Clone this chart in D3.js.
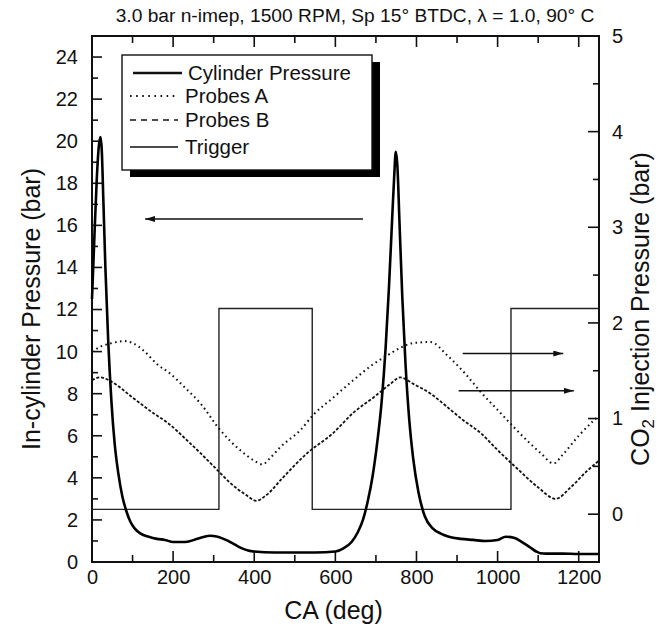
<!DOCTYPE html>
<html>
<head>
<meta charset="utf-8">
<script src="https://cdn.jsdelivr.net/npm/d3@7"></script>
<style>
  body { margin: 0; background: #fff; }
  text { font-family: "Liberation Sans", Arial, sans-serif; fill: #111; }
</style>
</head>
<body>
<div class="chart"></div>
<script>
var svgWidth = 662;
var svgHeight = 634;
var margin = {top: 36, right: 63, bottom: 72, left: 92};
var width = svgWidth - margin.left - margin.right;
var height = svgHeight - margin.top - margin.bottom;

// crank angle (deg) and in-cylinder pressure (bar, left axis)
var cylX = [0, 6, 12, 17, 21, 24, 28, 33, 40, 48, 56, 65, 75, 85, 95, 105, 120, 140, 160, 180, 200, 230, 260, 290, 310, 330, 350, 370, 385, 400, 450, 500, 550, 600, 620, 640, 655, 668, 680, 692, 704, 714, 724, 732, 740, 745, 749, 753, 758, 765, 773, 782, 792, 805, 820, 840, 860, 880, 910, 940, 970, 1000, 1020, 1040, 1060, 1080, 1095, 1105, 1120, 1160, 1200, 1250];
var cylY = [12.5, 15.5, 18.3, 19.8, 20.2, 19.6, 17.2, 14.0, 10.5, 7.6, 5.6, 4.2, 3.1, 2.4, 1.9, 1.6, 1.35, 1.2, 1.1, 1.05, 0.95, 0.95, 1.1, 1.25, 1.2, 1.05, 0.85, 0.65, 0.55, 0.5, 0.45, 0.45, 0.45, 0.5, 0.65, 0.95, 1.4, 2.0, 2.9, 4.1, 5.8, 7.6, 10.2, 13.0, 16.3, 18.3, 19.5, 18.8, 16.2, 12.6, 9.4, 6.8, 4.9, 3.3, 2.2, 1.6, 1.35, 1.2, 1.1, 1.05, 1.0, 1.05, 1.2, 1.15, 0.95, 0.7, 0.5, 0.42, 0.4, 0.4, 0.38, 0.38];

// probe signals (bar, right axis)
var probeAX = [0, 20, 50, 80, 100, 130, 160, 190, 230, 267, 316, 365, 400, 420, 440, 464, 514, 546, 595, 644, 694, 728, 760, 793, 835, 876, 920, 958, 1000, 1040, 1080, 1106, 1138, 1160, 1200, 1237, 1250];
var probeAY = [1.70, 1.75, 1.79, 1.81, 1.79, 1.70, 1.57, 1.48, 1.32, 1.16, 0.88, 0.67, 0.56, 0.52, 0.59, 0.70, 0.88, 1.04, 1.22, 1.40, 1.57, 1.66, 1.74, 1.79, 1.80, 1.66, 1.47, 1.28, 1.09, 0.91, 0.74, 0.64, 0.53, 0.62, 0.82, 0.98, 1.03];
var probeBX = [0, 20, 50, 100, 150, 185, 235, 267, 300, 340, 380, 405, 430, 470, 531, 595, 644, 694, 735, 760, 793, 835, 876, 916, 958, 1000, 1050, 1100, 1143, 1180, 1220, 1250];
var probeBY = [1.40, 1.43, 1.38, 1.22, 1.06, 0.96, 0.77, 0.64, 0.50, 0.33, 0.20, 0.14, 0.20, 0.38, 0.64, 0.85, 1.06, 1.22, 1.36, 1.43, 1.36, 1.26, 1.12, 0.98, 0.85, 0.67, 0.47, 0.28, 0.16, 0.28, 0.45, 0.56];

// trigger signal (bar, right axis)
var trigX = [0, 313, 313, 543, 543, 1033, 1033, 1250];
var trigY = [0.05, 0.05, 2.15, 2.15, 0.05, 0.05, 2.15, 2.15];

var xTicks = [0, 200, 400, 600, 800, 1000, 1200];
var leftTicks = [0, 2, 4, 6, 8, 10, 12, 14, 16, 18, 20, 22, 24];
var rightTicks = [0, 1, 2, 3, 4, 5];

var legendNames = ["Cylinder Pressure", "Probes A", "Probes B", "Trigger"];

var svg = d3.select(".chart").append("svg")
  .attr("width", svgWidth)
  .attr("height", svgHeight);

var chartGroup = svg.append("g")
  .attr("transform", `translate(${margin.left}, ${margin.top})`);

var xScale = d3.scaleLinear().domain([0, 1250]).range([0, width]);
var yLeft = d3.scaleLinear().domain([0, 25]).range([height, 0]);
var yRight = d3.scaleLinear().domain([-0.5, 5]).range([height, 0]);

// axes (labels only, tick marks drawn inward below)
var bottomAxis = d3.axisBottom(xScale).tickValues(xTicks).tickFormat(d3.format("d")).tickSize(0).tickPadding(8);
chartGroup.append("g").attr("class", "axis")
  .attr("transform", `translate(0, ${height})`)
  .call(bottomAxis);

var leftAxis = d3.axisLeft(yLeft).tickValues(leftTicks).tickFormat(d3.format("d")).tickSize(0).tickPadding(14);
chartGroup.append("g").attr("class", "axis").call(leftAxis);

var rightAxis = d3.axisRight(yRight).tickValues(rightTicks).tickFormat(d3.format("d")).tickSize(0).tickPadding(13);
chartGroup.append("g").attr("class", "axis")
  .attr("transform", `translate(${width}, 0)`)
  .call(rightAxis);

chartGroup.selectAll(".axis path").remove();
chartGroup.selectAll(".axis text").style("font-size", "20px").style("font-family", "Liberation Sans, Arial, sans-serif");

// tick marks
var tickGroup = chartGroup.append("g").attr("stroke", "#111").attr("stroke-width", 1.6);
d3.range(0, 1251, 100).forEach(function(v) {
  var len = v % 200 === 0 ? 11 : 7;
  tickGroup.append("line").attr("x1", xScale(v)).attr("x2", xScale(v)).attr("y1", height).attr("y2", height - len);
  tickGroup.append("line").attr("x1", xScale(v)).attr("x2", xScale(v)).attr("y1", 0).attr("y2", len);
});
d3.range(0, 25, 1).forEach(function(v) {
  var len = v % 2 === 0 ? 10 : 6;
  tickGroup.append("line").attr("x1", 0).attr("x2", len).attr("y1", yLeft(v)).attr("y2", yLeft(v));
});
d3.range(0, 5.01, 0.5).forEach(function(v) {
  var len = v % 1 === 0 ? 11 : 6;
  tickGroup.append("line").attr("x1", width).attr("x2", width - len).attr("y1", yRight(v)).attr("y2", yRight(v));
});

// frame
chartGroup.append("rect")
  .attr("width", width).attr("height", height)
  .attr("fill", "none").attr("stroke", "#111").attr("stroke-width", 2);

// trigger
var trigLine = d3.line().x((d, i) => xScale(trigX[i])).y((d, i) => yRight(trigY[i]));
chartGroup.append("path").datum(trigX)
  .attr("d", trigLine).attr("fill", "none").attr("stroke", "#222").attr("stroke-width", 1.4);

// probes
var lineA = d3.line().curve(d3.curveMonotoneX).x((d, i) => xScale(probeAX[i])).y((d, i) => yRight(probeAY[i]));
chartGroup.append("path").datum(probeAX)
  .attr("d", lineA).attr("fill", "none").attr("stroke", "#111").attr("stroke-width", 2)
  .attr("stroke-dasharray", "1.6,3.4");

var lineB = d3.line().curve(d3.curveMonotoneX).x((d, i) => xScale(probeBX[i])).y((d, i) => yRight(probeBY[i]));
chartGroup.append("path").datum(probeBX)
  .attr("d", lineB).attr("fill", "none").attr("stroke", "#111").attr("stroke-width", 1.8)
  .attr("stroke-dasharray", "3,1.8");

// cylinder pressure
var cylLine = d3.line().curve(d3.curveMonotoneX).x((d, i) => xScale(cylX[i])).y((d, i) => yLeft(cylY[i]));
chartGroup.append("path").datum(cylX)
  .attr("d", cylLine).attr("fill", "none").attr("stroke", "#000").attr("stroke-width", 2.6)
  .attr("stroke-linejoin", "round");

// arrows pointing at the axis each curve uses
var defs = svg.append("defs");
defs.append("marker").attr("id", "head")
  .attr("viewBox", "0 0 10 6").attr("refX", 10).attr("refY", 3)
  .attr("markerWidth", 10).attr("markerHeight", 6).attr("markerUnits", "userSpaceOnUse")
  .attr("orient", "auto")
  .append("path").attr("d", "M0,0 L10,3 L0,6 Z").attr("fill", "#111");

var arrows = [
  {x1: 668, x2: 131, y: yLeft(16.3)},
  {x1: 914, x2: 1162, y: yRight(1.68)},
  {x1: 904, x2: 1188, y: yRight(1.29)}
];
chartGroup.selectAll(".arrow").data(arrows).enter().append("line")
  .attr("class", "arrow")
  .attr("x1", d => xScale(d.x1)).attr("x2", d => xScale(d.x2))
  .attr("y1", d => d.y).attr("y2", d => d.y)
  .attr("stroke", "#111").attr("stroke-width", 1.5)
  .attr("marker-end", "url(#head)");

// legend with drop shadow
var legend = svg.append("g").attr("transform", "translate(122, 55)");
legend.append("rect").attr("x", 8).attr("y", 7).attr("width", 250).attr("height", 115).attr("fill", "#000");
legend.append("rect").attr("width", 250).attr("height", 115).attr("fill", "#fff").attr("stroke", "#111").attr("stroke-width", 1.4);

var legendStyles = [
  {w: 2.6, dash: null, x1: 11, x2: 60, tx: 66},
  {w: 2, dash: "1.6,4.5", x1: 8, x2: 56, tx: 63},
  {w: 1.6, dash: "6,5", x1: 8, x2: 56, tx: 63},
  {w: 1.4, dash: null, x1: 8, x2: 56, tx: 63}
];
var rowY = [18, 41, 65, 92];
legendNames.forEach(function(name, i) {
  var s = legendStyles[i];
  legend.append("line").attr("x1", s.x1).attr("x2", s.x2).attr("y1", rowY[i]).attr("y2", rowY[i])
    .attr("stroke", "#111").attr("stroke-width", s.w).attr("stroke-dasharray", s.dash);
  legend.append("text").attr("x", s.tx).attr("y", rowY[i] + 7)
    .style("font-size", "20.5px").text(name);
});

// titles
svg.append("text").attr("x", 355).attr("y", 22).attr("text-anchor", "middle")
  .style("font-size", "19.2px")
  .text("3.0 bar n-imep, 1500 RPM, Sp 15\u00b0 BTDC, \u03bb = 1.0, 90\u00b0 C");

svg.append("text").attr("x", margin.left + width / 2 - 12).attr("y", 619).attr("text-anchor", "middle")
  .style("font-size", "25px").text("CA (deg)");

svg.append("text").attr("transform", `translate(40, ${margin.top + height / 2 + 10}) rotate(-90)`)
  .attr("text-anchor", "middle").style("font-size", "25px").text("In-cylinder Pressure (bar)");

var rightTitle = svg.append("text").attr("transform", `translate(649, ${margin.top + height / 2 + 10}) rotate(-90)`)
  .attr("text-anchor", "middle").style("font-size", "25px");
rightTitle.append("tspan").text("CO");
rightTitle.append("tspan").attr("dy", 5).style("font-size", "17px").text("2");
rightTitle.append("tspan").attr("dy", -5).text(" Injection Pressure (bar)");
</script>
</body>
</html>
